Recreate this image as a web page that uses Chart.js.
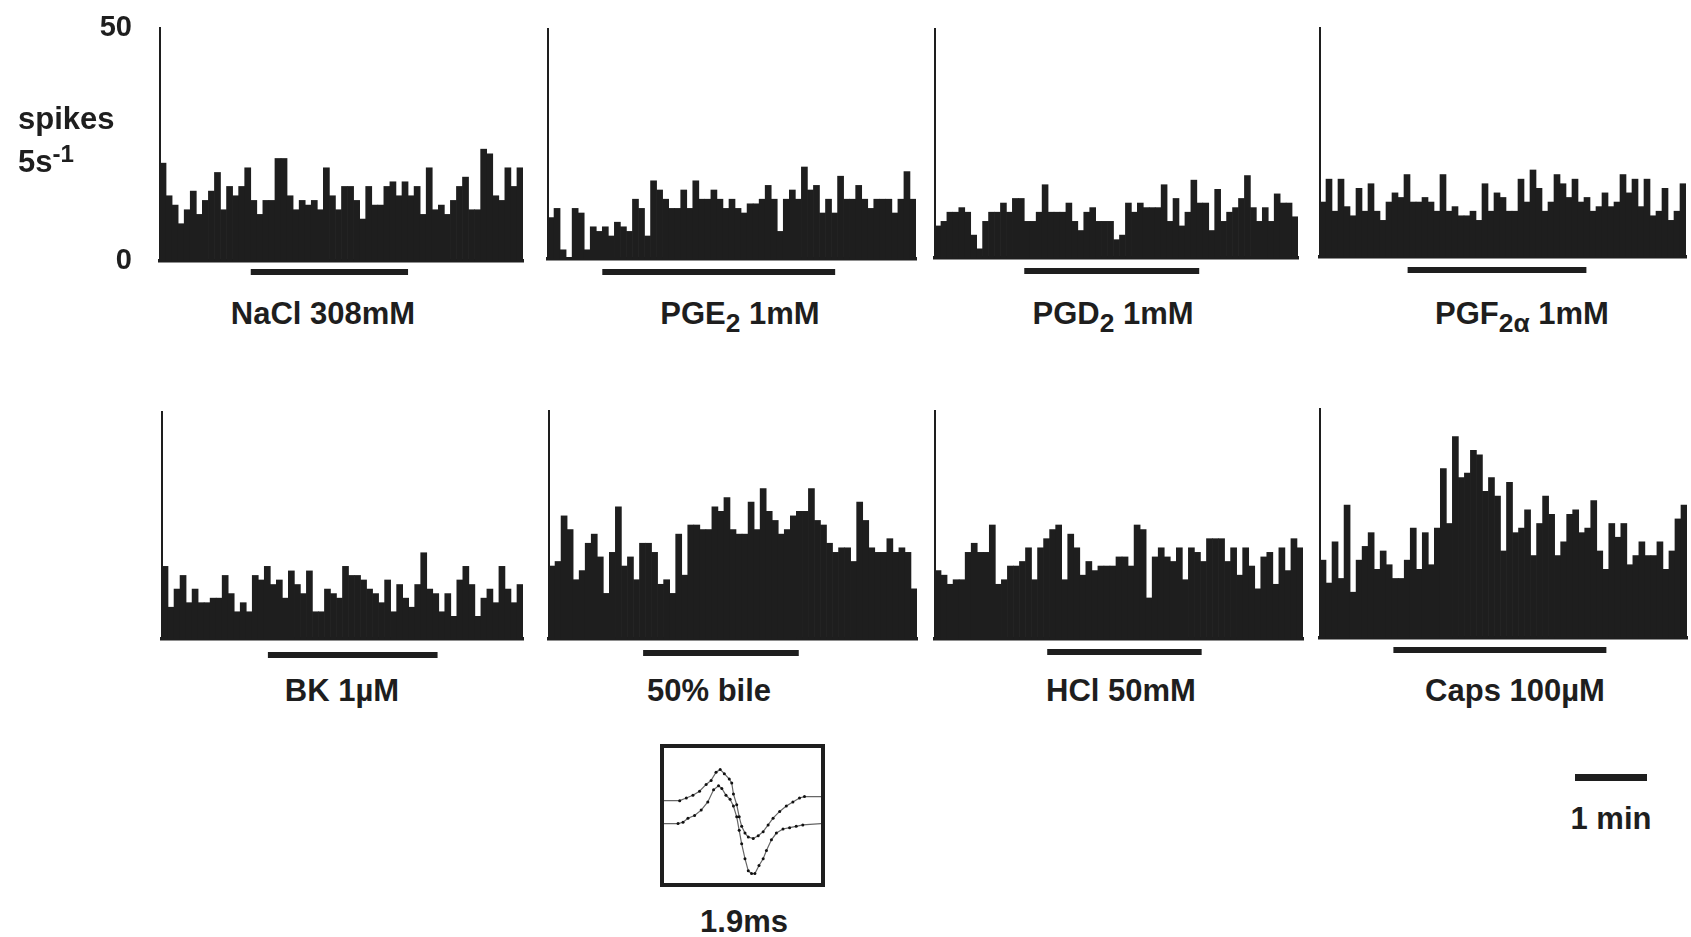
<!DOCTYPE html>
<html>
<head>
<meta charset="utf-8">
<script src="https://cdn.jsdelivr.net/npm/chart.js@4.4.1/dist/chart.umd.min.js"></script>
<style>
  html, body { margin: 0; padding: 0; background: #fff; }
  body {
    width: 1691px; height: 937px; position: relative; overflow: hidden;
    font-family: "Liberation Sans", Arial, Helvetica, sans-serif;
    font-weight: bold; color: #1e1e1e;
  }
  canvas { position: absolute; }
  .txt { position: absolute; font-size: 31px; line-height: 30px; white-space: nowrap; }
  .ctr { transform: translateX(-50%); }
  .sb { font-size: 0.85em; position: relative; top: 0.3em; }
  .sp { font-size: 0.78em; position: relative; top: -0.4em; }
  #inset { position: absolute; left: 660px; top: 744px; width: 165px; height: 143px;
           border: 4px solid #1e1e1e; box-sizing: border-box; }
  #inset canvas { left: 0; top: 0; }
  #minbar { position: absolute; background: #1e1e1e; height: 7px; }
</style>
</head>
<body>
<script>
// Spike counts per 5 s bin for each stimulus recording
const nacl  = [21,14,12,8,11,15,10,13,15,19, 11,16,14,16,20,13,10,13,13,22, 22,14,11,13,12,13,11,20,14,11, 16,16,13,9,16,12,12,16,17,14, 17,14,16,10,20,11,12,10,13,16, 18,11,11,24,23,14,13,20,16,20];
const pge2  = [9,11,2,0,11,10,2,7,6,7, 5,8,7,6,13,11,5,17,15,13, 11,11,15,11,17,13,13,15,13,11, 13,11,10,12,12,13,16,13,6,13, 15,13,20,15,16,10,13,10,18,13, 13,16,13,11,13,13,13,10,13,19, 13];
const pgd2  = [7,8,10,10,11,10,5,2,8,10, 10,12,10,13,13,8,8,10,16,10, 10,10,12,8,6,10,11,8,8,8, 4,5,12,10,12,11,11,11,16,8, 13,7,10,17,12,12,6,15,8,10, 11,13,18,11,8,11,8,14,12,12, 9];
const pgf2a = [12,17,10,17,11,9,15,10,16,10, 8,12,14,13,18,12,12,13,12,10, 18,10,11,9,9,10,8,16,10,14, 13,10,10,17,12,19,15,10,12,18, 16,13,17,12,13,10,11,14,11,12, 18,14,17,11,17,9,10,15,8,10, 16];
const bk    = [16,7,11,14,8,11,8,8,9,9, 14,10,6,8,6,14,13,16,12,13, 9,15,12,10,15,6,6,11,10,9, 16,14,14,13,11,10,8,13,6,12, 9,7,12,19,11,10,6,10,5,13, 16,12,5,9,11,8,16,11,8,12];
const bile  = [16,17,27,24,13,15,21,23,18,10, 19,29,16,18,13,21,21,19,12,13, 10,23,14,25,25,24,24,29,28,31, 24,23,23,30,24,33,28,26,23,24, 27,28,28,33,26,25,21,19,20,20, 17,30,26,20,19,19,22,19,20,19, 11];
const hcl   = [15,14,12,13,13,19,21,19,19,25, 12,13,16,16,17,20,13,20,22,24, 25,13,23,20,14,17,15,16,16,16, 18,18,16,25,24,9,18,20,18,17, 20,13,20,19,17,22,22,22,17,20, 14,20,16,11,18,19,12,20,15,22, 20];
const caps  = [17,12,21,13,29,10,17,20,23,15, 19,16,13,13,17,24,15,23,16,24, 37,25,44,35,36,41,40,32,35,31, 19,34,23,24,28,18,25,31,27,18, 21,27,28,23,24,30,19,15,25,22, 25,16,18,21,18,18,21,15,19,26, 29];

// Stimulus application windows (seconds from start of record)
const stimulusOn  = [75, 45, 75, 73, 88, 78, 93, 61];
const stimulusOff = [205, 238, 222, 222, 229, 207, 221, 238];

const panelLabels = ['NaCl 308mM', 'PGE<span class="sb">2</span> 1mM', 'PGD<span class="sb">2</span> 1mM',
                     'PGF<span class="sb">2\u03b1</span> 1mM', 'BK 1\u00b5M', '50% bile', 'HCl 50mM', 'Caps 100\u00b5M'];
const yTicks = [0, 50];
const binSeconds = 5;
const scaleBarSeconds = 60;

// Averaged action potential waveform (upper and lower envelope), time in ms
const upperT = [0,0.19,0.27,0.35,0.43,0.51,0.57,0.63,0.68,0.73,0.79,0.82,0.84,0.88,0.91,0.94,0.98,1.02,1.08,1.14,1.2,1.26,1.32,1.4,1.48,1.56,1.64,1.7,1.9];
const upperV = [61,61,63,65,68,73,76,82,84,81,77,74,66,58,49,42,37,34,33,35,38,43,48,53,57,60,63,64,64];
const lowerT = [0,0.17,0.23,0.29,0.37,0.45,0.53,0.6,0.66,0.7,0.75,0.8,0.84,0.88,0.91,0.94,0.98,1.02,1.06,1.1,1.15,1.2,1.24,1.3,1.36,1.44,1.52,1.6,1.68,1.9];
const lowerV = [44,44,45,48,50,54,60,69,72,70,65,62,57,49,39,29,18,9,7,7,13,18,24,32,37,40,41,42,43,44];

const series = [nacl, pge2, pgd2, pgf2a, bk, bile, hcl, caps];

// Page layout of each histogram: y-axis x, pixel of 50 and of 0, right end, stimulus bar gap, label centre
const panelBoxes = [
  { x: 160,  top: 28,  base: 261, right: 523,  gap: 11, lx: 323,  ly: 299 },
  { x: 548,  top: 29,  base: 259, right: 916,  gap: 13, lx: 740,  ly: 299 },
  { x: 935,  top: 29,  base: 258, right: 1298, gap: 13, lx: 1113, ly: 299 },
  { x: 1320, top: 28,  base: 257, right: 1686, gap: 13, lx: 1522, ly: 299 },
  { x: 162,  top: 412, base: 639, right: 523,  gap: 16, lx: 342,  ly: 676 },
  { x: 549,  top: 411, base: 639, right: 917,  gap: 14, lx: 709,  ly: 676 },
  { x: 935,  top: 411, base: 639, right: 1303, gap: 13, lx: 1121, ly: 676 },
  { x: 1320, top: 409, base: 638, right: 1687, gap: 12, lx: 1515, ly: 676 }
];

const INK = '#1e1e1e';
const Y_W = 70, PAD_T = 16, PAD_R = 8, PAD_B = 30;

// Draws the horizontal bar marking when the stimulus was applied
const stimulusPlugin = {
  id: 'stimulus',
  afterDraw(chart, args, opts) {
    const xs = chart.scales.x;
    const w = xs.getPixelForValue(1) - xs.getPixelForValue(0);
    const x0 = xs.getPixelForValue(0) - w / 2;
    const a = x0 + opts.on / binSeconds * w;
    const b = x0 + opts.off / binSeconds * w;
    const y = chart.chartArea.bottom + opts.gap;
    const ctx = chart.ctx;
    ctx.save();
    ctx.fillStyle = INK;
    ctx.fillRect(a, y - 3, b - a, 6);
    ctx.restore();
  }
};

function addText(html, left, top, centred) {
  const d = document.createElement('div');
  d.className = 'txt' + (centred ? ' ctr' : '');
  d.style.left = left + 'px';
  d.style.top = top + 'px';
  d.innerHTML = html;
  document.body.appendChild(d);
  return d;
}

function makePanel(i) {
  const b = panelBoxes[i];
  const data = series[i];
  const w = Y_W + (b.right - b.x) + PAD_R;
  const h = PAD_T + (b.base - b.top) + PAD_B;
  const cv = document.createElement('canvas');
  cv.width = w; cv.height = h;
  cv.style.width = w + 'px'; cv.style.height = h + 'px';
  cv.style.left = (b.x - Y_W) + 'px';
  cv.style.top = (b.top - PAD_T) + 'px';
  document.body.appendChild(cv);

  const chart = new Chart(cv, {
    type: 'bar',
    data: {
      labels: data.map((_, k) => k * binSeconds),
      datasets: [{ data: data, backgroundColor: INK, borderWidth: 0,
                   barPercentage: 1, categoryPercentage: 1 }]
    },
    options: {
      responsive: false, animation: false, devicePixelRatio: 1,
      layout: { padding: { top: PAD_T, right: PAD_R, bottom: PAD_B, left: 0 } },
      plugins: {
        legend: { display: false }, tooltip: { enabled: false },
        stimulus: { on: stimulusOn[i], off: stimulusOff[i], gap: b.gap }
      },
      scales: {
        x: {
          grid: { display: false, drawTicks: false },
          ticks: { display: false },
          border: { display: true, color: INK, width: 3.5 },
          afterFit(s) { s.height = 0; s.paddingLeft = 0; s.paddingRight = 0; }
        },
        y: {
          min: 0, max: 50,
          afterBuildTicks(s) { s.ticks = yTicks.map(v => ({ value: v })); },
          grid: { display: false, drawTicks: false },
          ticks: { display: i === 0, padding: 28, color: INK,
                   font: { family: '"Liberation Sans", Arial, sans-serif', size: 29, weight: 'bold' } },
          border: { display: true, color: INK, width: 2 },
          afterFit(s) { s.width = Y_W; s.paddingTop = 0; s.paddingBottom = 0; }
        }
      }
    },
    plugins: [stimulusPlugin]
  });
  addText(panelLabels[i], b.lx, b.ly, true);
  return chart;
}

const charts = series.map((_, i) => makePanel(i));

// y-axis title
addText('spikes', 18, 104, false);
addText('5s<span class="sp">-1</span>', 18, 147, false);

// 1 min scale bar, sized from the time axis of the last histogram
const xs8 = charts[7].scales.x;
const binPx = xs8.getPixelForValue(1) - xs8.getPixelForValue(0);
const bar = document.createElement('div');
bar.id = 'minbar';
bar.style.left = '1575px';
bar.style.top = '774px';
bar.style.width = (scaleBarSeconds / binSeconds * binPx) + 'px';
document.body.appendChild(bar);
addText('1 min', 1611, 804, true);

// Spike waveform inset
const inset = document.createElement('div');
inset.id = 'inset';
document.body.appendChild(inset);
const wc = document.createElement('canvas');
wc.width = 157; wc.height = 135;
wc.style.width = '157px'; wc.style.height = '135px';
inset.appendChild(wc);
const edgeless = (n) => (ctx) => (ctx.dataIndex === 0 || ctx.dataIndex === n - 1) ? 0 : 1.5;
new Chart(wc, {
  type: 'line',
  data: {
    datasets: [
      { data: upperT.map((t, k) => ({ x: t, y: upperV[k] })), borderColor: '#666', borderWidth: 1.2,
        pointRadius: edgeless(upperT.length), pointBackgroundColor: '#111', pointBorderWidth: 0, tension: 0 },
      { data: lowerT.map((t, k) => ({ x: t, y: lowerV[k] })), borderColor: '#666', borderWidth: 1.2,
        pointRadius: edgeless(lowerT.length), pointBackgroundColor: '#111', pointBorderWidth: 0, tension: 0 }
    ]
  },
  options: {
    responsive: false, animation: false, devicePixelRatio: 1,
    layout: { padding: 0 },
    plugins: { legend: { display: false }, tooltip: { enabled: false } },
    scales: {
      x: { type: 'linear', min: 0, max: 1.9, display: false },
      y: { min: 0, max: 100, display: false }
    }
  }
});
addText('1.9ms', 744, 907, true);
</script>
</body>
</html>
